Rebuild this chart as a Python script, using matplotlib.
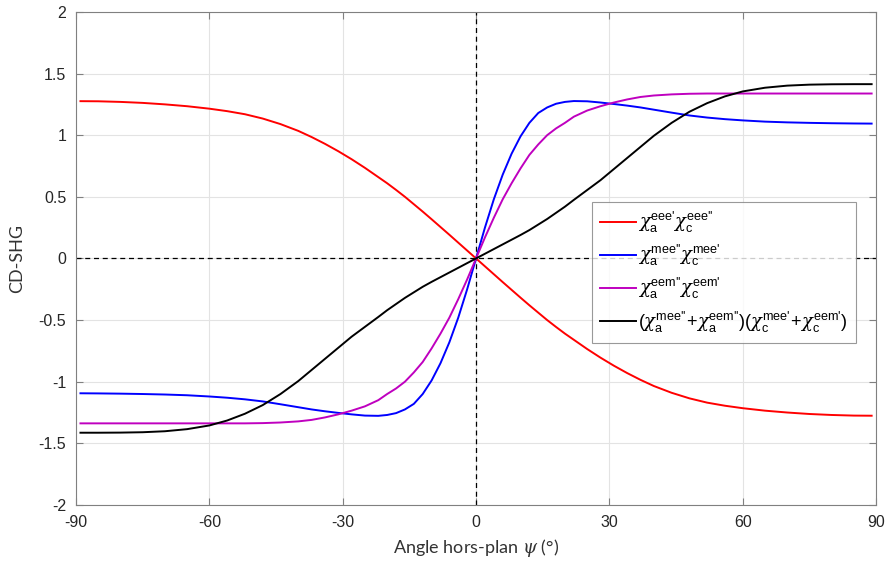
import matplotlib
matplotlib.use("Agg")
import matplotlib.pyplot as plt

plt.rcParams['font.family'] = ['Liberation Sans', 'DejaVu Sans']
plt.rcParams['mathtext.fontset'] = 'custom'
plt.rcParams['mathtext.rm'] = 'Liberation Sans'
plt.rcParams['mathtext.it'] = 'DejaVu Serif:italic'
plt.rcParams['mathtext.sf'] = 'Liberation Sans'

# ---- data ----
psi = [-89, -85, -80, -75, -70, -65, -60, -56, -52, -48, -44, -40, -37, -34, -31,
       -28, -25, -22, -20, -18, -16, -14, -12, -10, -8, -6, -4, -2, 0,
       2, 4, 6, 8, 10, 12, 14, 16, 18, 20, 22, 25, 28, 31, 34, 37, 40, 44, 48,
       52, 56, 60, 65, 70, 75, 80, 85, 89]

red = [1.276, 1.275, 1.27, 1.262, 1.25, 1.235, 1.215, 1.195, 1.17, 1.135, 1.09,
       1.035, 0.985, 0.93, 0.87, 0.805, 0.735, 0.66, 0.61, 0.556, 0.50, 0.44,
       0.38, 0.318, 0.255, 0.192, 0.128, 0.064, 0.0,
       -0.064, -0.128, -0.192, -0.255, -0.318, -0.38, -0.44, -0.50, -0.556, -0.61,
       -0.66, -0.735, -0.805, -0.87, -0.93, -0.985, -1.035, -1.09, -1.135, -1.17,
       -1.195, -1.215, -1.235, -1.25, -1.262, -1.27, -1.275, -1.276]

blue = [-1.094, -1.095, -1.097, -1.10, -1.104, -1.11, -1.12, -1.13, -1.143, -1.16,
        -1.183, -1.207, -1.225, -1.24, -1.253, -1.265, -1.275, -1.277, -1.27,
        -1.255, -1.225, -1.18, -1.10, -0.99, -0.85, -0.68, -0.48, -0.25, 0.0,
        0.25, 0.48, 0.68, 0.85, 0.99, 1.10, 1.18, 1.225, 1.255, 1.27, 1.277, 1.275,
        1.265, 1.253, 1.24, 1.225, 1.207, 1.183, 1.16, 1.143, 1.13, 1.12, 1.11,
        1.104, 1.10, 1.097, 1.095, 1.094]

magenta = [-1.338, -1.338, -1.338, -1.338, -1.338, -1.338, -1.338, -1.338, -1.338,
           -1.336, -1.331, -1.322, -1.31, -1.29, -1.265, -1.235, -1.20, -1.15,
           -1.10, -1.055, -1.0, -0.925, -0.84, -0.73, -0.61, -0.48, -0.33, -0.17,
           0.0, 0.17, 0.33, 0.48, 0.61, 0.73, 0.84, 0.925, 1.0, 1.055, 1.10, 1.15,
           1.20, 1.235, 1.265, 1.29, 1.31, 1.322, 1.331, 1.336, 1.338, 1.338, 1.338,
           1.338, 1.338, 1.338, 1.338, 1.338, 1.338]

black = [-1.414, -1.414, -1.413, -1.41, -1.402, -1.385, -1.355, -1.315, -1.26,
         -1.19, -1.10, -0.995, -0.905, -0.815, -0.725, -0.635, -0.555, -0.475,
         -0.42, -0.37, -0.32, -0.275, -0.23, -0.19, -0.152, -0.114, -0.076, -0.038,
         0.0, 0.038, 0.076, 0.114, 0.152, 0.19, 0.23, 0.275, 0.32, 0.37, 0.42,
         0.475, 0.555, 0.635, 0.725, 0.815, 0.905, 0.995, 1.10, 1.19, 1.26, 1.315,
         1.355, 1.385, 1.402, 1.41, 1.413, 1.414, 1.414]

labels = [r"$\chi_{\mathrm{a}}^{\text{eee'}}\chi_{\mathrm{c}}^{\text{eee''}}$",
          r"$\chi_{\mathrm{a}}^{\text{mee''}}\chi_{\mathrm{c}}^{\text{mee'}}$",
          r"$\chi_{\mathrm{a}}^{\text{eem''}}\chi_{\mathrm{c}}^{\text{eem'}}$",
          r"$(\chi_{\mathrm{a}}^{\text{mee''}}\!+\!\chi_{\mathrm{a}}^{\text{eem''}})(\chi_{\mathrm{c}}^{\text{mee'}}\!+\!\chi_{\mathrm{c}}^{\text{eem'}})$"]
colors = ['#ff0000', '#0000ff', '#bf00bf', '#000000']

xticks = [-90, -60, -30, 0, 30, 60, 90]
yticks = [-2, -1.5, -1, -0.5, 0, 0.5, 1, 1.5, 2]
yticklabels = ['-2', '-1.5', '-1', '-0.5', '0', '0.5', '1', '1.5', '2']

# ---- figure ----
fig = plt.figure(figsize=(8.86, 5.68), dpi=100)
ax = fig.add_axes([0.0858, 0.111, 0.903, 0.868])

ax.axhline(0, color='black', lw=0.9, ls=(0, (4, 3)), zorder=1)
ax.axvline(0, color='black', lw=0.9, ls=(0, (4, 3)), zorder=1)

for ys, c, lab in zip([red, blue, magenta, black], colors, labels):
    ax.plot(psi, ys, color=c, lw=1.4, label=lab, zorder=3)

ax.set_xlim(-90, 90)
ax.set_ylim(-2, 2)
ax.set_xticks(xticks)
ax.set_xticklabels([str(t) for t in xticks])
ax.set_yticks(yticks)
ax.set_yticklabels(yticklabels)
ax.grid(True, color='#e3e3e3', lw=0.8)
ax.set_axisbelow(True)
ax.tick_params(direction='in', length=5, width=0.8, colors='#808080',
               labelcolor='#262626', labelsize=11.5, top=True, right=True, pad=7)
for s in ax.spines.values():
    s.set_color('#808080')
    s.set_linewidth(0.8)

ax.set_xlabel(r"Angle hors-plan $\psi$ (°)", fontsize=13, color='#333333',
              family=['Lato', 'DejaVu Sans'], labelpad=5)
ax.set_ylabel("CD-SHG", fontsize=13, color='#333333',
              family=['Lato', 'DejaVu Sans'], labelpad=10)

leg = ax.legend(loc='upper left', bbox_to_anchor=(0.645, 0.615), fontsize=13,
                frameon=True, fancybox=False, edgecolor='#808080',
                handlelength=2.0, handletextpad=0.1, borderpad=0.45,
                labelspacing=0.45, borderaxespad=0)
leg.get_frame().set_linewidth(0.8)

fig.savefig("out.png", dpi=100)
